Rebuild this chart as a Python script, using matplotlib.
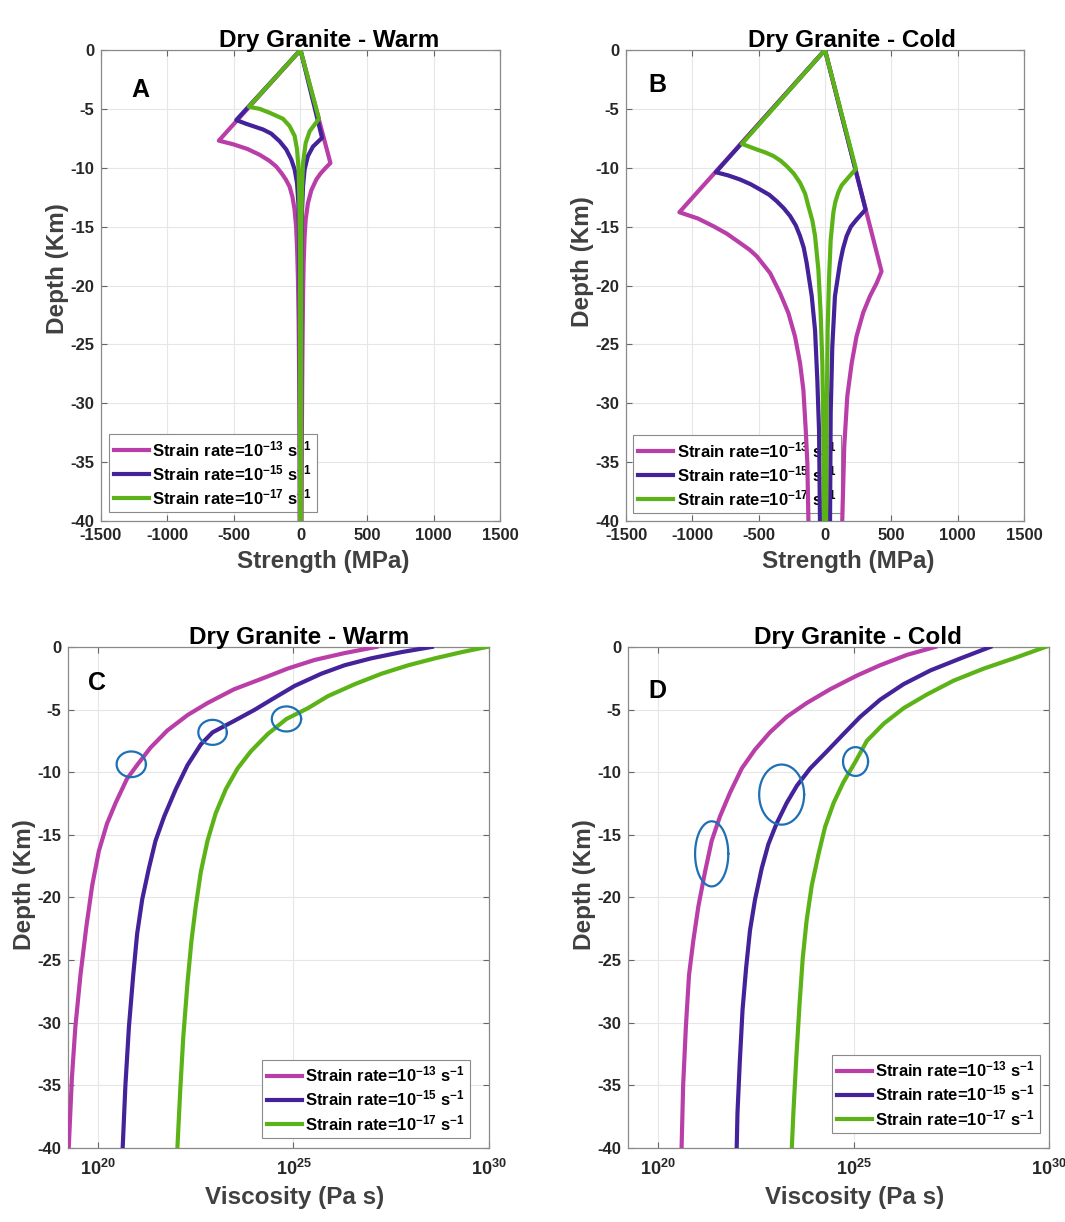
import numpy as np
import matplotlib.pyplot as plt

plt.rcParams["font.family"] = ["Liberation Sans", "DejaVu Sans"]
plt.rcParams["font.weight"] = "bold"
plt.rcParams["axes.unicode_minus"] = False
plt.rcParams["mathtext.fontset"] = "custom"
plt.rcParams["mathtext.rm"] = "Liberation Sans:bold"
plt.rcParams["mathtext.it"] = "Liberation Sans:bold"
plt.rcParams["mathtext.bf"] = "Liberation Sans:bold"

COLORS = ["#B93EA8", "#44239A", "#5CB318"]
RING_COLOR = "#1F6FB5"
LABELS = [
    r"Strain rate=10$^{-13}$ s$^{-1}$",
    r"Strain rate=10$^{-15}$ s$^{-1}$",
    r"Strain rate=10$^{-17}$ s$^{-1}$",
]

# strength envelopes: (strength MPa, depth km), each branch starts at the brittle-ductile kink
warm_left = [
    [(-614, -7.7), (-508, -8.0), (-400, -8.4), (-307, -8.9), (-235, -9.4), (-182, -9.9),
     (-140, -10.5), (-110, -11.0), (-82, -11.6), (-60, -12.5), (-45, -13.5), (-33, -15.0),
     (-25, -17.0), (-19, -19.5), (-14, -23.0), (-10, -28.0), (-7, -34.0), (-6, -40.0)],
    [(-483, -5.95), (-408, -6.27), (-282, -6.75), (-220, -7.1), (-157, -7.75), (-107, -8.45),
     (-69, -9.3), (-44, -10.15), (-26, -11.3), (-16, -13.0), (-11, -15.3), (-6, -21.0), (-4, -40.0)],
    [(-388, -4.82), (-307, -5.0), (-232, -5.33), (-132, -5.84), (-82, -6.46), (-44, -7.3),
     (-26, -8.45), (-14, -10.15), (-9, -12.4), (-4, -18.0), (-2, -40.0)],
]
warm_right = [
    [(225, -9.6), (190, -10.0), (150, -10.5), (119, -11.0), (82, -11.9), (56, -13.0), (39, -14.4),
     (31, -15.8), (24, -18.0), (19, -21.0), (14, -26.6), (10, -33.0), (8, -40.0)],
    [(162, -7.46), (94, -8.2), (56, -9.0), (31, -10.15), (19, -11.6), (11, -13.8), (7, -18.0), (4, -40.0)],
    [(139, -5.84), (69, -6.9), (39, -7.9), (19, -9.6), (11, -11.85), (6, -15.0), (2, -40.0)],
]
cold_left = [
    [(-1098, -13.78), (-960, -14.3), (-840, -14.97), (-740, -15.6), (-640, -16.39), (-570, -16.95),
     (-514, -17.52), (-414, -18.94), (-339, -20.64), (-276, -22.34), (-226, -24.33), (-188, -26.6),
     (-163, -28.86), (-145, -32.3), (-133, -35.1), (-125, -40.0)],
    [(-823, -10.38), (-730, -10.65), (-640, -11.0), (-560, -11.4), (-489, -11.85), (-420, -12.3),
     (-364, -12.84), (-310, -13.45), (-263, -14.1), (-220, -14.9), (-188, -15.8), (-160, -16.8),
     (-138, -18.1), (-100, -20.9), (-75, -23.8), (-58, -28.0), (-45, -32.3), (-38, -40.0)],
    [(-627, -7.97), (-514, -8.45), (-450, -8.7), (-389, -9.0), (-335, -9.4), (-288, -9.87),
     (-235, -10.5), (-188, -11.28), (-150, -12.2), (-125, -13.27), (-95, -14.5), (-75, -15.8),
     (-50, -18.65), (-33, -22.3), (-20, -26.6), (-13, -32.0), (-8, -40.0)],
]
cold_right = [
    [(426, -18.8), (389, -19.8), (339, -20.9), (288, -22.3), (238, -24.3), (201, -26.6),
     (168, -29.4), (145, -33.7), (130, -40.0)],
    [(306, -13.55), (238, -14.4), (195, -15.0), (163, -15.8), (135, -16.9), (113, -18.1),
     (75, -20.9), (55, -25.2), (43, -30.8), (38, -40.0)],
    [(233, -10.09), (163, -11.0), (125, -11.5), (100, -12.1), (78, -12.9), (63, -13.8), (43, -16.1),
     (30, -19.5), (20, -23.8), (13, -30.8), (8, -40.0)],
]

# viscosity profiles: log10(viscosity, Pa s) against depth (km)
warm_logvisc = [
    [27.12, 26.31, 25.54, 24.85, 24.17, 23.48, 22.80, 22.29, 21.77, 21.34, 21.00, 20.74, 20.45,
     20.23, 20.02, 19.85, 19.70, 19.55, 19.42, 19.33, 19.25],
    [28.54, 27.77, 26.99, 26.31, 25.71, 25.03, 24.51, 24.00, 23.48, 22.93, 22.63, 22.29, 21.99,
     21.69, 21.47, 21.30, 21.13, 21.00, 20.90, 20.79, 20.70, 20.63],
    [29.95, 29.31, 28.62, 27.94, 27.25, 26.57, 25.88, 25.37, 24.82, 24.34, 23.91, 23.57, 23.27,
     23.01, 22.80, 22.63, 22.50, 22.39, 22.29, 22.18, 22.10, 22.03],
]
warm_depth = [
    [0, 0.49, 1.04, 1.73, 2.56, 3.38, 4.48, 5.44, 6.68, 8.05, 9.43, 10.53, 12.45, 14.1, 16.3,
     19.05, 22.35, 26.2, 30.32, 34.45, 40],
    [0, 0.41, 0.91, 1.46, 2.14, 3.11, 4.07, 5.03, 5.91, 6.82, 7.78, 9.43, 11.35, 13.55, 15.48,
     17.68, 20.15, 22.9, 26.2, 30.32, 35.0, 40],
    [0, 0.41, 0.91, 1.46, 2.14, 2.97, 3.93, 4.89, 5.75, 6.96, 8.33, 9.7, 11.35, 13.28, 15.48,
     17.95, 20.7, 23.45, 26.75, 31.15, 35.55, 40],
]
cold_logvisc = [
    [27.09, 26.37, 25.68, 25.09, 24.40, 23.80, 23.29, 22.86, 22.48, 22.14, 21.84, 21.58, 21.37,
     21.20, 21.03, 20.90, 20.79, 20.71, 20.64, 20.60],
    [28.50, 27.74, 26.97, 26.28, 25.68, 25.17, 24.74, 24.32, 23.89, 23.55, 23.29, 23.03, 22.82,
     22.65, 22.48, 22.35, 22.25, 22.16, 22.09, 22.03, 22.01],
    [29.91, 29.10, 28.33, 27.56, 26.88, 26.28, 25.77, 25.34, 25.05, 24.74, 24.49, 24.27, 24.10,
     23.93, 23.80, 23.70, 23.62, 23.53, 23.46, 23.42],
]
cold_depth = [
    [0, 0.63, 1.46, 2.28, 3.38, 4.48, 5.58, 6.82, 8.19, 9.7, 11.63, 13.55, 15.48, 17.95, 20.7,
     23.45, 26.2, 30.32, 35.0, 40],
    [0, 0.91, 1.87, 2.97, 4.21, 5.58, 6.96, 8.33, 9.7, 11.08, 12.45, 14.1, 15.75, 17.68, 20.15,
     22.63, 25.65, 28.95, 33.07, 37.2, 40],
    [0, 0.91, 1.73, 2.69, 3.79, 4.89, 6.13, 7.5, 9.15, 10.8, 12.45, 14.38, 16.58, 19.05, 21.8,
     24.82, 28.4, 33.07, 37.2, 40],
]

# transition rings: centre log10(visc), centre depth, width (decades), height (km)
warm_rings = [(20.85, 9.37, 0.75, 2.05), (22.93, 6.82, 0.73, 2.0), (24.82, 5.75, 0.75, 2.0)]
cold_rings = [(21.37, 16.52, 0.85, 5.2), (23.16, 11.79, 1.15, 4.8), (25.05, 9.15, 0.64, 2.3)]

LABEL_KW = dict(fontsize=17.5, fontweight="bold", color="#404040")


def style_axes(ax):
    ax.grid(True, color="#e6e6e6", linewidth=0.8)
    ax.set_axisbelow(True)
    ax.tick_params(direction="in", top=True, right=True, length=4, width=0.8,
                   color="#666666", labelsize=12, labelcolor="#262626", pad=5)
    for spine in ax.spines.values():
        spine.set_color("#8a8a8a")
        spine.set_linewidth(0.9)


def add_legend(ax, handles, anchor, loc):
    leg = ax.legend(handles, LABELS, loc=loc, bbox_to_anchor=anchor, borderaxespad=0,
                    fontsize=12, handlelength=2.1, handletextpad=0.2, labelspacing=0.25,
                    borderpad=0.3, fancybox=False, framealpha=1, edgecolor="#8a8a8a")
    leg.get_frame().set_linewidth(0.8)
    return leg


def finish_text(ax, title, xlabel, letter, text_pos):
    tx, lx, ly = text_pos
    ax.set_title(title, fontsize=17.5, fontweight="bold", pad=2, x=tx)
    ax.set_xlabel(xlabel, labelpad=5, x=lx, **LABEL_KW)
    ax.set_ylabel("Depth (Km)", labelpad=1, y=ly, **LABEL_KW)
    ax.text(letter[1], letter[2], letter[0], transform=ax.transAxes, fontsize=18,
            fontweight="bold", ha="center", va="center")


def strength_panel(ax, left, right, title, letter, anchor, text_pos):
    handles = []
    for lb, rb, c in zip(left, right, COLORS):
        lb = np.array(lb)
        rb = np.array(rb)
        x = np.concatenate([lb[::-1, 0], [0], rb[:, 0]])
        y = np.concatenate([lb[::-1, 1], [0], rb[:, 1]])
        (h,) = ax.plot(x, y, color=c, lw=3, solid_joinstyle="round", zorder=3)
        handles.append(h)
    ax.set_xlim(-1500, 1500)
    ax.set_ylim(-40, 0)
    ax.set_xticks(np.arange(-1500, 1501, 500))
    ax.set_yticks(np.arange(-40, 1, 5))
    style_axes(ax)
    finish_text(ax, title, "Strength (MPa)", letter, text_pos)
    leg = add_legend(ax, handles, anchor, "lower left")
    leg.set_zorder(2)


def viscosity_panel(ax, logvisc, depth, rings, title, letter, anchor, text_pos):
    handles = []
    for lv, d, c in zip(logvisc, depth, COLORS):
        (h,) = ax.plot(10.0 ** np.array(lv), -np.array(d), color=c, lw=3,
                       solid_joinstyle="round", zorder=3)
        handles.append(h)
    t = np.linspace(0, 2 * np.pi, 200)
    for cx, cy, w, hgt in rings:
        ax.plot(10.0 ** (cx + w / 2 * np.cos(t)), -(cy + hgt / 2 * np.sin(t)),
                color=RING_COLOR, lw=1.6, zorder=4)
    ax.set_xscale("log")
    ax.set_xlim(10 ** 19.23, 1e30)
    ax.set_ylim(-40, 0)
    ax.set_xticks([1e20, 1e25, 1e30])
    ax.set_xticklabels([r"$10^{20}$", r"$10^{25}$", r"$10^{30}$"])
    ax.xaxis.set_minor_locator(plt.NullLocator())
    ax.set_yticks(np.arange(-40, 1, 5))
    style_axes(ax)
    ax.tick_params(axis="x", labelsize=13, pad=8)
    finish_text(ax, title, "Viscosity (Pa s)", letter, text_pos)
    add_legend(ax, handles, anchor, "lower right")


fig = plt.figure(figsize=(10.65, 12.22), dpi=100)
ax_a = fig.add_axes([0.0948, 0.5736, 0.3747, 0.3855])
ax_b = fig.add_axes([0.5878, 0.5736, 0.3737, 0.3855])
ax_c = fig.add_axes([0.0638, 0.0606, 0.3953, 0.4100])
ax_d = fig.add_axes([0.5897, 0.0606, 0.3953, 0.4100])

strength_panel(ax_a, warm_left, warm_right, "Dry Granite - Warm", ("A", 0.098, 0.915),
               (0.02, 0.019), (0.571, 0.556, 0.537))
strength_panel(ax_b, cold_left, cold_right, "Dry Granite - Cold", ("B", 0.078, 0.926),
               (0.018, 0.017), (0.568, 0.558, 0.55))
viscosity_panel(ax_c, warm_logvisc, warm_depth, warm_rings, "Dry Granite - Warm",
                ("C", 0.069, 0.928), (0.955, 0.02), (0.549, 0.539, 0.525))
viscosity_panel(ax_d, cold_logvisc, cold_depth, cold_rings, "Dry Granite - Cold",
                ("D", 0.069, 0.912), (0.979, 0.03), (0.546, 0.539, 0.525))

fig.savefig("out.png", dpi=100)
